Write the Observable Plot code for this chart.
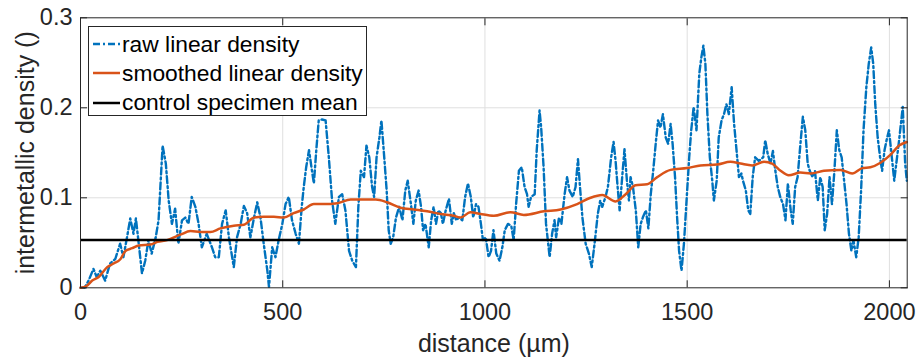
<!DOCTYPE html>
<html><head><meta charset="utf-8">
<script src="https://cdn.jsdelivr.net/npm/d3@7"></script>
<script src="https://cdn.jsdelivr.net/npm/@observablehq/plot@0.6"></script>
<style>
body{margin:0;background:#fff;}
#wrap{position:relative;width:920px;height:363px;font-family:"Liberation Sans",Arial,sans-serif;}
#legend{position:absolute;left:88px;top:26px;width:279px;height:90px;border:1px solid #262626;background:#fff;box-sizing:border-box;}
.row{position:absolute;left:0;height:29px;display:flex;align-items:center;font-size:22.8px;color:#000;white-space:nowrap;}
.row svg{margin-left:4px;margin-right:2px;}
</style>
</head><body>
<div id="wrap"></div>
<script>
const xTicks = [0, 500, 1000, 1500, 2000];
const yTicks = [0, 0.1, 0.2, 0.3];
const xLabel = "distance (µm)";
const yLabel = "intermetallic density ()";
const seriesNames = ["raw linear density", "smoothed linear density", "control specimen mean"];
const controlMean = 0.053;

const rawDistance = [0,10,20,32,40,49,61,73,86,98,106,115,123,131,137,143,152,160,168,176,186,193,203,211,218,226,234,242,251,259,267,275,284,292,300,312,325,333,342,350,359,367,379,387,396,404,412,420,429,437,445,453,462,466,474,482,490,499,507,515,523,532,540,547,552,558,565,571,577,583,589,597,606,614,622,630,639,647,655,664,672,681,687,693,701,707,714,721,726,732,739,744,751,757,762,767,773,780,788,796,803,809,817,823,829,836,842,847,853,861,867,873,879,885,891,896,903,911,918,923,929,936,944,951,958,965,971,978,984,990,995,1002,1009,1015,1021,1028,1036,1043,1049,1057,1065,1071,1077,1084,1091,1098,1104,1108,1114,1123,1128,1135,1139,1145,1151,1160,1166,1172,1176,1183,1189,1197,1203,1209,1217,1224,1230,1235,1241,1249,1257,1264,1271,1279,1285,1290,1298,1304,1312,1318,1323,1328,1333,1340,1345,1351,1356,1360,1366,1373,1379,1385,1391,1398,1404,1410,1416,1423,1428,1434,1440,1447,1453,1459,1464,1470,1475,1480,1486,1492,1499,1505,1510,1516,1523,1530,1535,1540,1545,1550,1556,1562,1566,1573,1578,1585,1591,1597,1603,1610,1616,1622,1628,1634,1638,1645,1651,1656,1662,1668,1677,1688,1693,1699,1706,1712,1718,1724,1730,1737,1743,1749,1756,1761,1767,1773,1780,1786,1792,1798,1803,1810,1816,1823,1829,1835,1840,1846,1852,1858,1864,1870,1876,1882,1888,1894,1900,1906,1911,1918,1924,1930,1936,1943,1949,1955,1960,1965,1971,1977,1982,1988,1993,1999,2006,2012,2017,2024,2033,2039,2043];
const rawDensity = [0,0,0.008,0.021,0.012,0.019,0.008,0.027,0.032,0.049,0.034,0.056,0.077,0.060,0.077,0.053,0.016,0.030,0.053,0.038,0.056,0.075,0.158,0.138,0.097,0.071,0.088,0.049,0.075,0.078,0.071,0.101,0.090,0.071,0.045,0.060,0.045,0.034,0.034,0.071,0.086,0.056,0.023,0.056,0.071,0.091,0.083,0.056,0.078,0.095,0.078,0.049,0.019,0.001,0.045,0.034,0.053,0.071,0.093,0.101,0.075,0.060,0.049,0.090,0.112,0.134,0.153,0.134,0.116,0.153,0.186,0.187,0.186,0.145,0.097,0.071,0.101,0.104,0.086,0.041,0.030,0.023,0.090,0.130,0.123,0.158,0.145,0.112,0.101,0.145,0.167,0.186,0.145,0.108,0.064,0.049,0.056,0.078,0.090,0.075,0.108,0.119,0.093,0.071,0.097,0.108,0.090,0.064,0.071,0.045,0.075,0.090,0.071,0.086,0.083,0.071,0.086,0.099,0.071,0.083,0.075,0.078,0.075,0.101,0.116,0.101,0.078,0.093,0.090,0.071,0.053,0.056,0.034,0.041,0.064,0.038,0.030,0.045,0.064,0.071,0.069,0.053,0.093,0.130,0.134,0.112,0.104,0.090,0.101,0.104,0.153,0.197,0.178,0.134,0.071,0.034,0.060,0.075,0.056,0.078,0.071,0.104,0.123,0.108,0.101,0.112,0.143,0.112,0.078,0.049,0.038,0.023,0.049,0.082,0.097,0.090,0.101,0.112,0.145,0.162,0.141,0.112,0.086,0.127,0.154,0.119,0.097,0.123,0.112,0.086,0.045,0.071,0.079,0.086,0.066,0.104,0.130,0.164,0.186,0.178,0.193,0.167,0.160,0.182,0.160,0.123,0.079,0.041,0.019,0.049,0.101,0.145,0.175,0.201,0.175,0.238,0.256,0.269,0.249,0.193,0.145,0.119,0.097,0.119,0.167,0.186,0.193,0.204,0.193,0.223,0.182,0.153,0.123,0.127,0.119,0.108,0.086,0.082,0.123,0.145,0.141,0.145,0.164,0.149,0.138,0.152,0.130,0.112,0.101,0.093,0.075,0.116,0.086,0.071,0.112,0.123,0.160,0.190,0.175,0.138,0.130,0.123,0.130,0.097,0.123,0.112,0.064,0.082,0.123,0.093,0.130,0.175,0.153,0.145,0.119,0.093,0.060,0.041,0.053,0.034,0.056,0.108,0.175,0.223,0.249,0.267,0.249,0.204,0.167,0.145,0.130,0.153,0.164,0.175,0.145,0.119,0.138,0.164,0.201,0.138,0.119];

const smoothDistance = [0,15,29,45,66,82,99,111,128,144,173,190,214,247,272,297,321,346,379,404,429,453,478,503,527,552,577,602,635,668,701,730,758,791,824,857,890,923,940,964,989,1022,1063,1096,1146,1187,1228,1261,1290,1323,1348,1372,1401,1426,1459,1500,1533,1574,1607,1632,1661,1690,1710,1731,1751,1780,1805,1838,1879,1908,1933,1953,1978,2003,2024,2043];
const smoothDensity = [0,0.002,0.008,0.012,0.023,0.027,0.032,0.041,0.044,0.047,0.048,0.051,0.053,0.059,0.063,0.062,0.062,0.066,0.069,0.070,0.078,0.079,0.079,0.078,0.083,0.087,0.093,0.093,0.094,0.098,0.098,0.098,0.095,0.089,0.087,0.085,0.082,0.080,0.078,0.084,0.082,0.080,0.084,0.081,0.085,0.087,0.093,0.100,0.103,0.096,0.104,0.114,0.115,0.123,0.131,0.133,0.136,0.137,0.140,0.138,0.136,0.140,0.138,0.130,0.125,0.128,0.127,0.130,0.131,0.127,0.133,0.134,0.139,0.148,0.158,0.162];

const raw = rawDistance.map((d, i) => ({d, v: rawDensity[i]}));
const smooth = smoothDistance.map((d, i) => ({d, v: smoothDensity[i]}));

const axisColor = "#262626";
const chart = Plot.plot({
  width: 920, height: 363,
  marginLeft: 80, marginRight: 13.3, marginTop: 17.3, marginBottom: 75.7,
  style: {fontFamily: "'Liberation Sans', Arial, sans-serif", fontSize: "23.5px", color: axisColor, background: "white", overflow: "visible"},
  x: {domain: [0, 2044]},
  y: {domain: [0, 0.3]},
  marks: [
    Plot.gridX(xTicks.slice(1), {stroke: "#dfdfdf", strokeOpacity: 1}),
    Plot.gridY(yTicks.slice(1, 3), {stroke: "#dfdfdf", strokeOpacity: 1}),
    Plot.line(raw, {x: "d", y: "v", stroke: "#0072BD", strokeWidth: 2.4, strokeDasharray: "7,3,2,3"}),
    Plot.line(smooth, {x: "d", y: "v", stroke: "#D95319", strokeWidth: 2.5, curve: "monotone-x"}),
    Plot.ruleY([controlMean], {stroke: "#000", strokeWidth: 2.5}),
    Plot.frame({stroke: axisColor, strokeWidth: 1}),
    Plot.axisX({anchor: "bottom", ticks: xTicks, tickSize: -7, tickPadding: 23, label: null, tickFormat: d => String(d), fill: axisColor, stroke: axisColor}),
    Plot.axisX({anchor: "top", ticks: xTicks, tickSize: -7, label: null, tickFormat: () => "", stroke: axisColor}),
    Plot.axisY({anchor: "left", ticks: yTicks, tickSize: -7, tickPadding: 15, label: null, tickFormat: d => d === 0 ? "0" : d3.format(".1f")(d), fill: axisColor, stroke: axisColor}),
    Plot.axisY({anchor: "right", ticks: yTicks, tickSize: -7, label: null, tickFormat: () => "", stroke: axisColor}),
    Plot.text([xLabel], {frameAnchor: "bottom", dy: 64.5, lineAnchor: "bottom", textAnchor: "middle", fontSize: 25, fill: axisColor}),
    Plot.text([yLabel], {frameAnchor: "left", dx: -47, rotate: -90, lineAnchor: "bottom", textAnchor: "middle", fontSize: 25, fill: axisColor})
  ]
});
const wrap = document.getElementById("wrap");
wrap.appendChild(chart);

// legend
const legend = document.createElement("div");
legend.id = "legend";
const styles = [
  {stroke: "#0072BD", width: 2.4, dash: "7,3,2,3"},
  {stroke: "#D95319", width: 2.5, dash: null},
  {stroke: "#000", width: 2.5, dash: null}
];
seriesNames.forEach((name, i) => {
  const row = document.createElement("div");
  row.className = "row";
  row.style.top = (2.5 + i * 29.3) + "px";
  const s = styles[i];
  row.innerHTML = `<svg width="27" height="10"><line x1="0" x2="27" y1="5" y2="5" stroke="${s.stroke}" stroke-width="${s.width}" ${s.dash ? `stroke-dasharray="${s.dash}"` : ""}/></svg><span>${name}</span>`;
  legend.appendChild(row);
});
wrap.appendChild(legend);
</script>
</body></html>
